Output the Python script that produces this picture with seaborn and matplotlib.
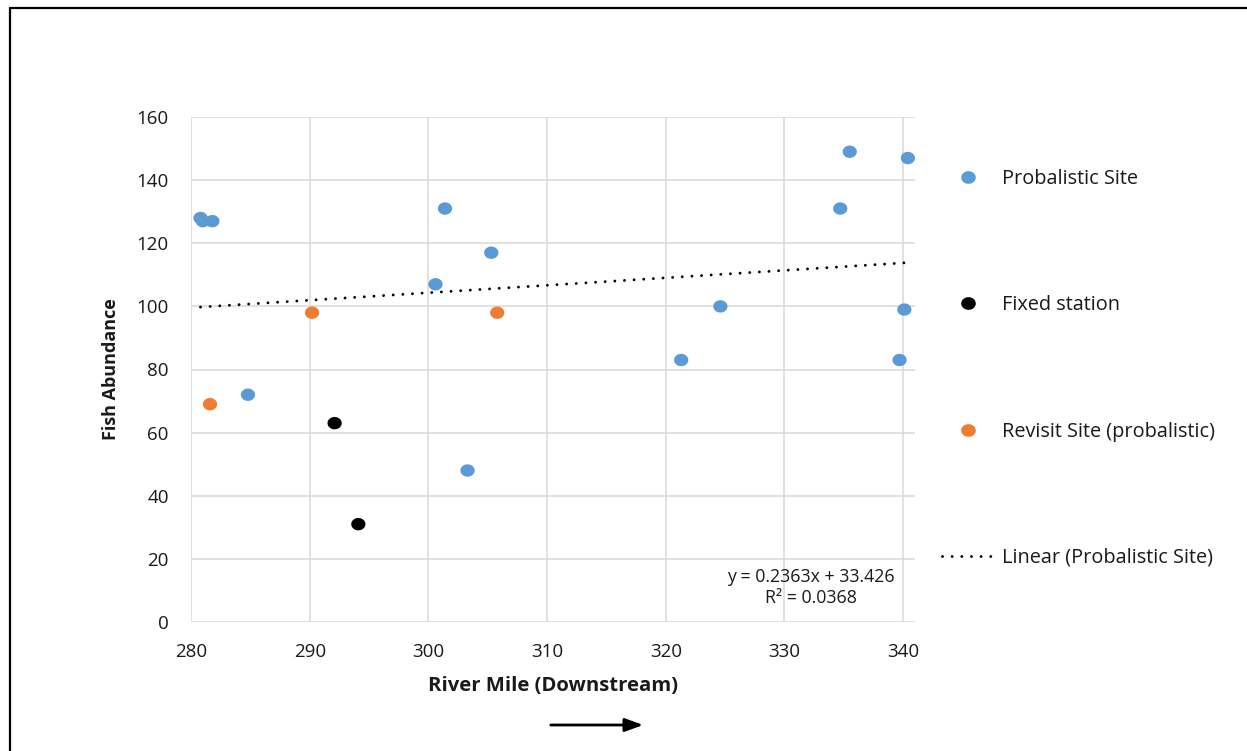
import matplotlib
matplotlib.use("Agg")
import matplotlib.pyplot as plt
from matplotlib.lines import Line2D
from matplotlib.path import Path
from matplotlib.patches import FancyArrowPatch
import numpy as np
import pandas as pd
import seaborn as sns

# Survey data: river mile vs. fish abundance, by site type
prob_mile = [280.8, 281.0, 281.8, 284.8, 300.6, 301.4, 303.3, 305.3,
             321.3, 324.6, 334.7, 335.5, 339.7, 340.1, 340.4]
prob_fish = [128, 127, 127, 72, 107, 131, 48, 117,
             83, 100, 131, 149, 83, 99, 147]
fixed_mile = [292.1, 294.1]
fixed_fish = [63, 31]
revisit_mile = [281.6, 290.2, 305.8]
revisit_fish = [69, 98, 98]

site_labels = ["Probalistic Site", "Fixed station", "Revisit Site (probalistic)"]
trend_label = "Linear (Probalistic Site)"
trend_slope = 0.2363
trend_intercept = 33.426
trend_r2 = 0.0368

x_ticks = [280, 290, 300, 310, 320, 330, 340]
y_ticks = [0, 20, 40, 60, 80, 100, 120, 140, 160]

df = pd.DataFrame({
    "mile": prob_mile + fixed_mile + revisit_mile,
    "fish": prob_fish + fixed_fish + revisit_fish,
    "site": ([site_labels[0]] * len(prob_mile)
             + [site_labels[1]] * len(fixed_mile)
             + [site_labels[2]] * len(revisit_mile)),
})

sns.set_theme(style="white")
plt.rcParams["font.family"] = ["Open Sans", "DejaVu Sans"]

TXT = "#1a1a1a"
DOTTED = (0, (0.01, 3.3))

# Slightly wide oval marker
theta = np.linspace(0, 2 * np.pi, 60)
oval = Path(np.column_stack([1.15 * np.cos(theta), np.sin(theta)]), closed=True)

fig = plt.figure(figsize=(12.47, 7.51), dpi=100)
ax = fig.add_axes([191 / 1247, 1 - 622 / 751, (915 - 191) / 1247, (622 - 117) / 751])

palette = {site_labels[0]: "#5B9BD5", site_labels[1]: "#000000", site_labels[2]: "#ED7D31"}

# Trend line from the stated regression, spanning the probabilistic sites
trend_x = np.array([min(prob_mile), max(prob_mile)])
trend_df = pd.DataFrame({"mile": trend_x, "fish": trend_slope * trend_x + trend_intercept})
sns.lineplot(data=trend_df, x="mile", y="fish", ax=ax, color="black",
             linewidth=2.1, linestyle=DOTTED, dash_capstyle="round",
             zorder=2, legend=False)

sns.scatterplot(data=df, x="mile", y="fish", hue="site", hue_order=site_labels,
                palette=palette, s=105, marker=oval, edgecolor="none", ax=ax,
                zorder=3, legend=False)

ax.set_xlim(280, 341)
ax.set_ylim(0, 160)
ax.set_xticks(x_ticks)
ax.set_yticks(y_ticks)
ax.grid(True, color="#D9D9D9", linewidth=1.1)
for sp in ax.spines.values():
    sp.set_visible(False)
ax.tick_params(axis="both", length=0, labelsize=13.5, colors=TXT)
ax.tick_params(axis="y", pad=16)
ax.tick_params(axis="x", pad=15)

ax.set_xlabel("River Mile (Downstream)", fontsize=14.6, fontweight="bold",
              labelpad=11, color=TXT)
ax.set_ylabel("Fish Abundance", fontsize=13, fontweight="bold", labelpad=12, color=TXT)

ax.text(332.2, 11.0, f"y = {trend_slope}x + {trend_intercept}\nR² = {trend_r2}",
        ha="center", va="center", fontsize=12.8, multialignment="center",
        linespacing=1.2, color=TXT)

# Legend to the right of the plot
handles = [
    Line2D([], [], linestyle="none", marker=oval, markersize=10.5,
           markerfacecolor=palette[s], markeredgecolor="none") for s in site_labels
] + [Line2D([], [], color="black", linewidth=2.1, linestyle=DOTTED,
            dash_capstyle="round")]
fig.legend(handles, site_labels + [trend_label], loc="upper left",
           bbox_to_anchor=(942 / 1247, 1 - 169 / 751), frameon=False, fontsize=14.3,
           handlelength=2.6, handletextpad=0.4, labelspacing=5.35,
           borderaxespad=0, borderpad=0, labelcolor=TXT)

# Downstream direction arrow
fig.add_artist(FancyArrowPatch(
    (548 / 1247, 1 - 725 / 751), (646 / 1247, 1 - 725 / 751),
    transform=fig.transFigure, arrowstyle="-|>,head_length=11,head_width=4",
    mutation_scale=1, color="black", linewidth=2))

# Outer frame
fig.add_artist(Line2D([9.5 / 1247, 9.5 / 1247], [0, 1 - 8 / 751],
                      transform=fig.transFigure, color="black", linewidth=1.6))
fig.add_artist(Line2D([9.5 / 1247, 1], [1 - 8 / 751, 1 - 8 / 751],
                      transform=fig.transFigure, color="black", linewidth=1.6))

fig.savefig("out.png", dpi=100)
